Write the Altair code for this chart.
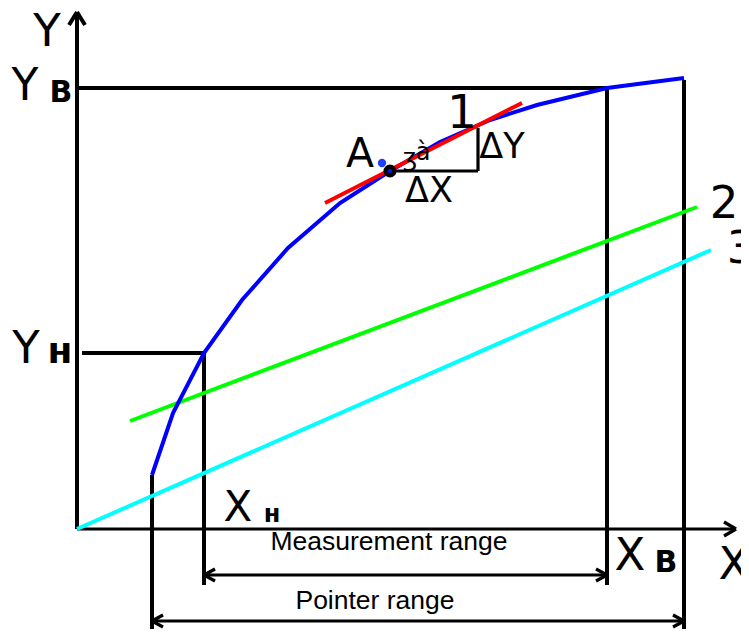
import altair as alt
import pandas as pd

# Coordinates: x to the right of the origin, y above the origin (schematic units)
curve_x = [75, 96, 127, 165, 211, 263, 313, 363, 413, 460, 530, 607]
curve_y = [54, 116, 176, 229, 281, 326, 358, 387, 409, 424, 441, 451]

tangent_x = [248, 445]
tangent_y = [326, 426]

line2_x = [53, 620]
line2_y = [108, 322]

line3_x = [0, 634]
line3_y = [0, 279]

# heavy black segments: (x1, y1, x2, y2)
heavy_segments = [
    (0, 0, 0, 517),        # Y axis
    (0, 517, -8, 504),     # Y arrow
    (0, 517, 8, 504),
    (0, 441, 530, 441),    # Y_B level
    (5, 176, 127, 176),    # Y_H level
    (75, 54, 75, -115),    # pointer range left
    (127, 176, 127, -56),  # X_H
    (530, 441, 530, -56),  # X_B
    (607, 449, 607, -115), # pointer range right
]
light_segments = [
    (0, 0, 659, 0),        # X axis
    (659, 0, 647, 7),
    (659, 0, 647, -7),
    (127, -46, 530, -46),  # measurement range arrow
    (127, -46, 138, -40),
    (127, -46, 138, -52),
    (530, -46, 519, -40),
    (530, -46, 519, -52),
    (75, -92, 607, -92),   # pointer range arrow
    (75, -92, 86, -86),
    (75, -92, 86, -98),
    (607, -92, 596, -86),
    (607, -92, 596, -98),
    (313, 358, 401, 358),  # delta X
    (401, 358, 401, 401),  # delta Y
]

# labels: (text, x, y, size)
big_labels = [
    ("Y", -30, 483, 45),
    ("Y", -52, 429, 44),
    ("Y", -51, 166, 45),
    ("X", 161, 8, 42),
    ("X", 553, -41, 45),
    ("X", 657, -50, 45),
    ("A", 283, 362, 41),
    ("1", 385, 401, 47),
    ("2", 647, 311, 45),
    ("3", 664, 266, 45),
    ("ΔY", 425, 371, 35),
    ("ΔX", 352, 327, 35),
    ("à", 346, 369, 24),
    ("ʒ", 333, 363, 25),
]
bold_labels = [
    ("B", -16, 427, 30),
    ("н", -17, 166, 36),
    ("н", 195, 7, 24),
    ("B", 589, -43, 30),
]
range_labels = [
    ("Measurement range", 312, -21, 26.5),
    ("Pointer range", 298, -80, 26.5),
]

point_a = (313, 358)
point_a_mark = (305, 366)

X = alt.Scale(domain=[-69, 664], nice=False, zero=False)
Y = alt.Scale(domain=[-100, 521], nice=False, zero=False)


def seg_df(segs):
    return pd.DataFrame(segs, columns=["x", "y", "x2", "y2"])


def rules(segs, width):
    return alt.Chart(seg_df(segs)).mark_rule(color="black", strokeWidth=width).encode(
        x=alt.X("x:Q", scale=X, axis=None),
        y=alt.Y("y:Q", scale=Y, axis=None),
        x2="x2:Q",
        y2="y2:Q",
    )


def polyline(xs, ys, color, width=4):
    df = pd.DataFrame({"x": xs, "y": ys, "i": range(len(xs))})
    return alt.Chart(df).mark_line(color=color, strokeWidth=width).encode(
        x=alt.X("x:Q", scale=X, axis=None),
        y=alt.Y("y:Q", scale=Y, axis=None),
        order="i:Q",
    )


def texts(items, font, weight="normal"):
    df = pd.DataFrame(items, columns=["t", "x", "y", "s"])
    return alt.Chart(df).mark_text(
        font=font, fontWeight=weight, color="black", align="center", baseline="alphabetic"
    ).encode(
        x=alt.X("x:Q", scale=X, axis=None),
        y=alt.Y("y:Q", scale=Y, axis=None),
        text="t:N",
        size=alt.Size("s:Q", scale=None, legend=None),
    )


pt_df = pd.DataFrame({"x": [point_a[0]], "y": [point_a[1]]})
pt2_df = pd.DataFrame({"x": [point_a_mark[0]], "y": [point_a_mark[1]]})

point_layer = alt.Chart(pt_df).mark_point(
    shape="circle", filled=True, color="black", size=170, opacity=1
).encode(x=alt.X("x:Q", scale=X, axis=None), y=alt.Y("y:Q", scale=Y, axis=None))
point_inner = alt.Chart(pt_df).mark_point(
    shape="circle", filled=True, color="#1010ff", size=18, opacity=1
).encode(x=alt.X("x:Q", scale=X, axis=None), y=alt.Y("y:Q", scale=Y, axis=None))
point_blue = alt.Chart(pt2_df).mark_point(
    shape="circle", filled=True, color="#2040ff", size=70, opacity=1
).encode(x=alt.X("x:Q", scale=X, axis=None), y=alt.Y("y:Q", scale=Y, axis=None))

chart = alt.layer(
    rules(heavy_segments, 4),
    rules(light_segments, 3.2),
    polyline(line3_x, line3_y, "#00ffff"),
    polyline(line2_x, line2_y, "#00ff00"),
    polyline(curve_x, curve_y, "#0000ff"),
    polyline(tangent_x, tangent_y, "#ff0000"),
    point_blue,
    point_layer,
    point_inner,
    texts(big_labels, "DejaVu Sans"),
    texts(bold_labels, "DejaVu Sans", "bold"),
    texts(range_labels, "Liberation Sans"),
).properties(
    width=733,
    height=621,
    padding=0,
    autosize=alt.AutoSizeParams(type="none"),
    background="white",
).configure_view(stroke=None)

chart.save("out.html", embed_options={"renderer": "svg", "actions": False})
